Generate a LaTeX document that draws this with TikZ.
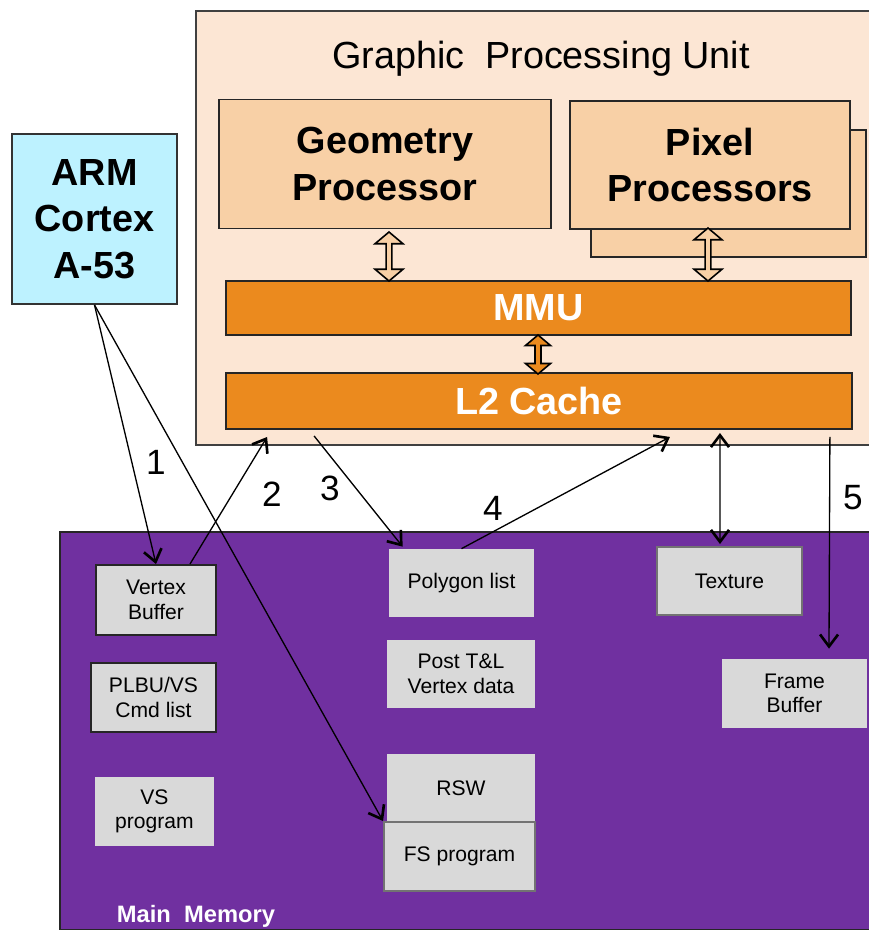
\documentclass[tikz,border=0pt]{standalone}
\usepackage{fontspec}
\setmainfont{Liberation Sans}
\usetikzlibrary{arrows.meta, shapes.arrows}
\definecolor{gpupeach}{RGB}{252,230,212}
\definecolor{gpucore}{RGB}{248,208,166}
\definecolor{gpuorange}{RGB}{235,138,30}
\definecolor{armcyan}{RGB}{189,242,255}
\definecolor{mempurple}{RGB}{112,48,160}
\definecolor{memgray}{RGB}{217,217,217}
\definecolor{edgegray}{RGB}{64,64,64}

\begin{document}
\begin{tikzpicture}[x=0.02cm, y=-0.02cm,
		>={Straight Barb[length=2.4mm, width=3.6mm, line width=1.5pt]},
		big/.style={font=\fontsize{21.5}{26.5}\selectfont\bfseries, align=center, inner sep=0pt},
		core/.style={big, draw=black!85, line width=1.1pt, fill=gpucore},
		bar/.style={big, draw=black!85, line width=1.1pt, fill=gpuorange, text=white},
		buf/.style={fill=memgray, inner sep=0pt, align=center,
		            font=\fontsize{12}{14}\selectfont},
		bufedge/.style={buf, draw=black!85, line width=1.1pt},
		bufgray/.style={buf, draw=black!55, line width=1.1pt},
		fat/.style={double arrow, draw=black, line width=0.9pt, inner sep=0pt,
		            minimum width=0.56cm, double arrow head extend=0.06cm,
		            double arrow tip angle=100, rotate=90},
		link/.style={line width=0.75pt, ->},
		num/.style={font=\fontsize{20}{24}\selectfont}]
		\path[use as bounding box, clip] (0,0) rectangle (869,930);
		\node[draw=edgegray, line width=1.1pt, fill=gpupeach, anchor=north west,
		      minimum width=14cm, minimum height=8.68cm] (gpu) at (195,10) {};
		\node[font=\fontsize{21.5}{25}\selectfont] (title) at (541,59) {Graphic\ \ Processing Unit};
		\node[core, minimum width=6.64cm, minimum height=2.58cm] (geo) at (385,164) {Geometry\\Processor};
		\node[core, minimum width=5.5cm, minimum height=2.54cm] (pixb) at (728.5,193.5) {};
		\node[core, minimum width=5.6cm, minimum height=2.56cm] (pix) at (710,165) {Pixel\\Processors};
		\node[bar, minimum width=12.5cm, minimum height=1.08cm] (mmu) at (538.5,308) {MMU};
		\node[bar, minimum width=12.52cm, minimum height=1.12cm] (l2) at (539,401) {L2 Cache};
		\node[fat, fill=gpucore, minimum height=0.98cm] (gm) at (389,256.5) {};
		\node[fat, fill=gpucore, minimum height=1.06cm] (pm) at (708,254.5) {};
		\node[fat, fill=gpuorange, minimum height=0.78cm, minimum width=0.5cm,
		      double arrow head extend=0.05cm] (ml) at (538,354.5) {};
		\node[big, draw=black!80, line width=1.1pt, fill=armcyan,
		      minimum width=3.3cm, minimum height=3.4cm] (arm) at (94.5,219) {ARM\\Cortex\\A-53};
		\node[draw=black!85, line width=0.9pt, fill=mempurple, anchor=north west,
		      minimum width=16.6cm, minimum height=7.96cm] (mem) at (59,531) {};
		\node[text=white, font=\fontsize{13.5}{16}\selectfont\bfseries] (memlbl) at (196,916) {Main\ \ Memory};
		\node[bufedge, minimum width=2.4cm, minimum height=1.4cm] (vb) at (156,600) {Vertex\\Buffer};
		\node[bufedge, minimum width=2.5cm, minimum height=1.38cm] (plbu) at (153.5,697.5) {PLBU/VS\\Cmd list};
		\node[buf, minimum width=2.38cm, minimum height=1.38cm] (vsp) at (154.5,811.5) {VS\\program};
		\node[buf, minimum width=2.9cm, minimum height=1.36cm] (poly) at (461.5,583) {Polygon list};
		\node[buf, minimum width=2.96cm, minimum height=1.36cm] (post) at (461,674) {Post T\&L\\Vertex data};
		\node[buf, minimum width=2.96cm, minimum height=1.36cm] (rsw) at (461,788) {RSW};
		\node[bufgray, minimum width=3.02cm, minimum height=1.38cm] (fs) at (459.5,856.5) {FS program};
		\node[bufgray, minimum width=2.9cm, minimum height=1.36cm] (tex) at (729.5,581) {Texture};
		\node[buf, minimum width=2.9cm, minimum height=1.38cm] (fb) at (794.5,693.5) {Frame\\Buffer};
		\draw[link] (arm.south) -- (vb.north);
		\draw[link] (arm.south) -- (fs.north west);
		\draw[link] ([xshift=0.68cm]vb.north) -- ([xshift=0.84cm, yshift=-0.14cm]l2.south west);
		\draw[link] ([xshift=1.78cm, yshift=-0.12cm]l2.south west) -- ([xshift=0.28cm, yshift=0.04cm]poly.north west);
		\draw[link] (poly.north) -- ([xshift=2.62cm, yshift=-0.14cm]l2.south);
		\draw[link, <->] ([xshift=3.62cm, yshift=-0.06cm]l2.south) -- ([xshift=-0.19cm, yshift=0.04cm]tex.north);
		\draw[link] ([xshift=-0.46cm, yshift=-0.14cm]l2.south east) -- ([xshift=0.69cm, yshift=0.2cm]fb.north);
		\foreach \n/\x/\y in {1/156/462, 2/272/494, 3/330/488, 4/493/508, 5/853/498}
		  \node[num] (n\n) at (\x,\y) {\n};
	\end{tikzpicture}
\end{document}
